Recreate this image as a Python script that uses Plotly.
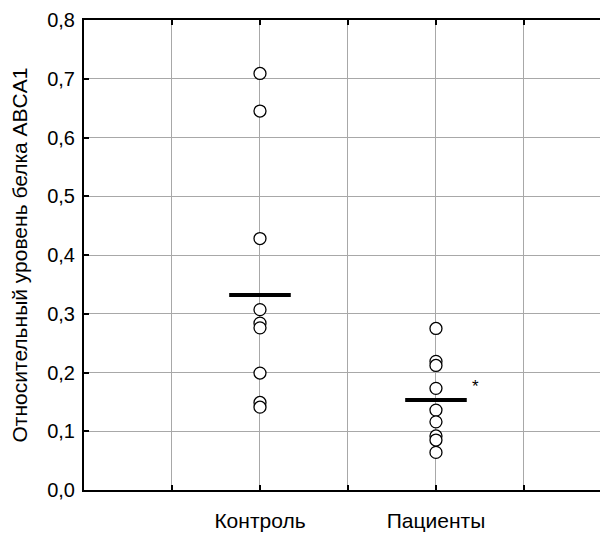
import plotly.graph_objects as go

categories = ["Контроль", "Пациенты"]
control_values = [0.709, 0.645, 0.428, 0.307, 0.284, 0.276, 0.199, 0.149, 0.141]
patient_values = [0.275, 0.219, 0.212, 0.173, 0.136, 0.116, 0.092, 0.085, 0.064]
group_means = [0.332, 0.153]
group_positions = [2, 4]
x_tickvals = [1, 2, 3, 4, 5]
x_ticktext = ["", "Контроль", "", "Пациенты", ""]
y_tickvals = [0.0, 0.1, 0.2, 0.3, 0.4, 0.5, 0.6, 0.7, 0.8]

fig = go.Figure()
halfw = 0.35
for pos, m in zip(group_positions, group_means):
    fig.add_trace(go.Scatter(x=[pos - halfw, pos + halfw], y=[m, m], mode="lines",
                             line=dict(color="black", width=4), showlegend=False,
                             hoverinfo="skip"))
for pos, vals in zip(group_positions, [control_values, patient_values]):
    fig.add_trace(go.Scatter(x=[pos] * len(vals), y=vals, mode="markers",
                             marker=dict(size=12, color="white", symbol="circle",
                                         line=dict(color="black", width=1.3)),
                             showlegend=False))

fig.add_annotation(x=4.45, y=0.176, text="*", showarrow=False,
                   font=dict(size=17, color="black"), xanchor="center", yanchor="middle")

fig.update_layout(
    width=600, height=525,
    margin=dict(l=76, r=0, t=12, b=43),
    plot_bgcolor="white", paper_bgcolor="white",
    separators=", ",
    font=dict(family="Liberation Sans, Arial, sans-serif", size=20, color="black"),
)
fig.update_xaxes(range=[0, 5.955], tickvals=x_tickvals, ticktext=x_ticktext,
                 showgrid=True, gridcolor="#a8a8a8", gridwidth=1,
                 showline=True, linecolor="black", linewidth=2, mirror="ticks",
                 ticks="inside", ticklen=5, tickwidth=2, tickcolor="black",
                 ticklabelstandoff=11, zeroline=False, automargin=False,
                 tickfont=dict(size=21))
fig.update_yaxes(range=[0, 0.8], tickvals=y_tickvals, tickformat=".1f",
                 showgrid=True, gridcolor="#a8a8a8", gridwidth=1,
                 showline=True, linecolor="black", linewidth=2,
                 ticks="inside", ticklen=5, tickwidth=2, tickcolor="black",
                 zeroline=False, ticklabelstandoff=3, automargin=False,
                 title=dict(text="Относительный уровень белка ABCA1", standoff=17,
                            font=dict(size=21)),
                 tickfont=dict(size=20))

fig.write_html("out.html")
